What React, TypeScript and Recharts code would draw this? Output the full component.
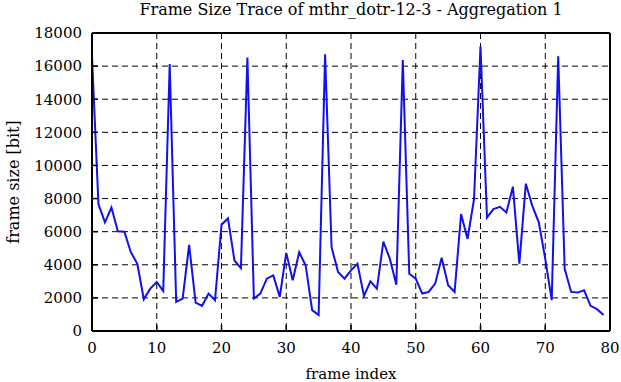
import { LineChart, Line, XAxis, YAxis, CartesianGrid } from 'recharts';

const FRAME_SIZES = [
  16560, 7660, 6560, 7460, 6020, 6000, 4760, 4060, 1920, 2560,
  2960, 2420, 16120, 1760, 1960, 5200, 1720, 1520, 2260, 1860,
  6420, 6800, 4260, 3800, 16520, 1960, 2260, 3160, 3360, 2060,
  4720, 3060, 4760, 3960, 1260, 960, 16720, 5060, 3560, 3160,
  3660, 4060, 2120, 3000, 2560, 5400, 4360, 2800, 16360, 3460,
  3160, 2260, 2360, 2860, 4420, 2760, 2360, 7060, 5560, 7960,
  17200, 6860, 7360, 7500, 7160, 8720, 4060, 8900, 7560, 6560,
  4360, 1860, 16600, 3760, 2360, 2320, 2460, 1520, 1320, 960,
];
const X_TICKS = [0, 10, 20, 30, 40, 50, 60, 70, 80];
const Y_TICKS = [0, 2000, 4000, 6000, 8000, 10000, 12000, 14000, 16000, 18000];

const data = FRAME_SIZES.map((size, i) => ({ frame: i, size }));

const FONT = '"DejaVu Serif", serif';
const tickStyle = { fill: '#000', fontSize: 15 };
const frameLine = { stroke: '#000', strokeWidth: 2 };
const frameTick = { stroke: '#000', strokeWidth: 1.5 };

export default function App() {
  return (
    <div style={{ position: 'absolute', left: 0, top: 0, width: 621, height: 382, background: '#fff', fontFamily: FONT }}>
      <style>{`.recharts-text { font-family: ${FONT}; }`}</style>
      <div style={{
        position: 'absolute', top: 0, left: 92, width: 518, textAlign: 'center',
        fontFamily: FONT, fontSize: 16, color: '#000', lineHeight: '20px', whiteSpace: 'nowrap',
      }}>
        Frame Size Trace of mthr_dotr-12-3 - Aggregation 1
      </div>
      <LineChart width={621} height={382} data={data} margin={{ top: 32, right: 10, bottom: 0, left: 0 }}
        style={{ fontFamily: FONT }}>
        <CartesianGrid xAxisId="b" yAxisId="l" stroke="#000" strokeDasharray="6 4" strokeWidth={1}
          horizontalValues={Y_TICKS.slice(1, -1)} verticalValues={X_TICKS.slice(1, -1)} />
        <XAxis xAxisId="b" dataKey="frame" type="number" domain={[0, 80]} ticks={X_TICKS}
          height={51} tick={tickStyle} tickSize={-6} tickMargin={17}
          axisLine={frameLine} tickLine={frameTick}
          label={{ value: 'frame index', position: 'insideBottom', offset: 3, fill: '#000', fontSize: 15 }} />
        <XAxis xAxisId="t" orientation="top" dataKey="frame" type="number" domain={[0, 80]} ticks={X_TICKS}
          height={1} tick={false} tickSize={-6}
          axisLine={frameLine} tickLine={frameTick} />
        <YAxis yAxisId="l" type="number" domain={[0, 18000]} ticks={Y_TICKS} width={92}
          tick={tickStyle} tickSize={-6} tickMargin={16}
          axisLine={frameLine} tickLine={frameTick}
          label={{ value: 'frame size [bit]', angle: -90, position: 'insideLeft', offset: 13, style: { textAnchor: 'middle' }, fill: '#000', fontSize: 16 }} />
        <YAxis yAxisId="r" orientation="right" type="number" domain={[0, 18000]} ticks={Y_TICKS} width={1}
          tick={false} tickSize={-6}
          axisLine={frameLine} tickLine={frameTick} />
        <Line xAxisId="b" yAxisId="l" type="linear" dataKey="size" stroke="#1010f0" strokeWidth={2}
          dot={false} isAnimationActive={false} />
      </LineChart>
    </div>
  );
}
